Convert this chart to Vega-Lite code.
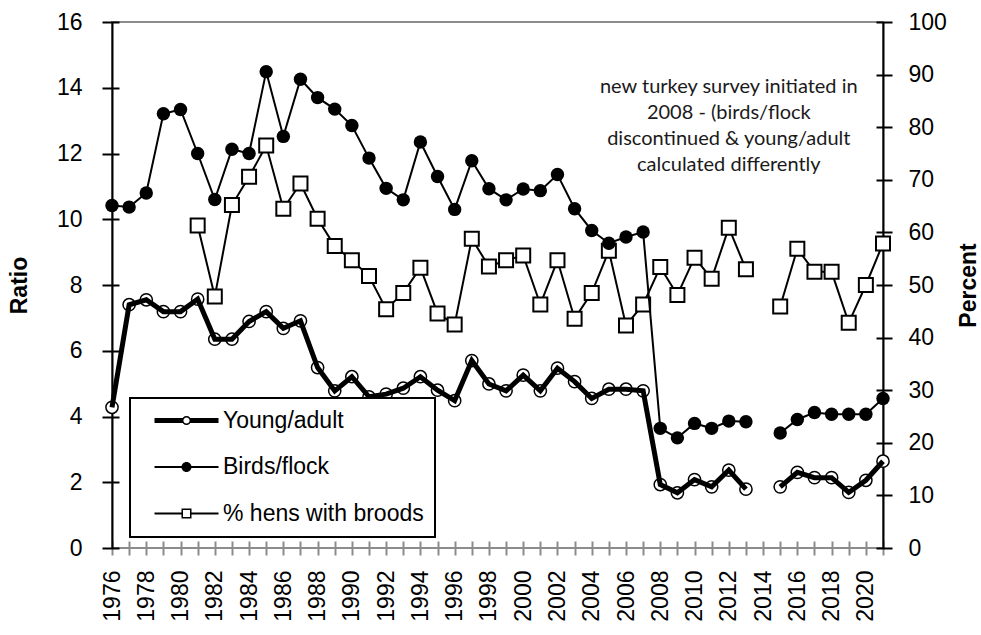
{
  "$schema": "https://vega.github.io/schema/vega-lite/v6.json",
  "width": 771,
  "height": 526,
  "autosize": {"type": "none"},
  "padding": {"left": 112, "top": 22, "right": 98, "bottom": 87},
  "background": "white",
  "config": {
    "font": "Liberation Sans",
    "view": {"stroke": "#8c8c8c", "strokeWidth": 2},
    "axis": {"grid": false, "labelFont": "Liberation Sans", "labelFontSize": 23, "labelColor": "black", "titleFont": "Liberation Sans", "titleFontSize": 23, "titleFontWeight": "bold", "titleColor": "black"}
  },
  "data": {"values": [
    {"year": 1976, "Young/adult": 4.28, "Birds/flock": 10.42, "% hens with broods": null},
    {"year": 1977, "Young/adult": 7.40, "Birds/flock": 10.37, "% hens with broods": null},
    {"year": 1978, "Young/adult": 7.55, "Birds/flock": 10.80, "% hens with broods": null},
    {"year": 1979, "Young/adult": 7.19, "Birds/flock": 13.21, "% hens with broods": null},
    {"year": 1980, "Young/adult": 7.19, "Birds/flock": 13.34, "% hens with broods": null},
    {"year": 1981, "Young/adult": 7.57, "Birds/flock": 12.00, "% hens with broods": 61.3},
    {"year": 1982, "Young/adult": 6.35, "Birds/flock": 10.60, "% hens with broods": 47.8},
    {"year": 1983, "Young/adult": 6.35, "Birds/flock": 12.13, "% hens with broods": 65.2},
    {"year": 1984, "Young/adult": 6.89, "Birds/flock": 12.00, "% hens with broods": 70.6},
    {"year": 1985, "Young/adult": 7.19, "Birds/flock": 14.49, "% hens with broods": 76.5},
    {"year": 1986, "Young/adult": 6.68, "Birds/flock": 12.52, "% hens with broods": 64.5},
    {"year": 1987, "Young/adult": 6.91, "Birds/flock": 14.26, "% hens with broods": 69.3},
    {"year": 1988, "Young/adult": 5.49, "Birds/flock": 13.70, "% hens with broods": 62.6},
    {"year": 1989, "Young/adult": 4.78, "Birds/flock": 13.35, "% hens with broods": 57.4},
    {"year": 1990, "Young/adult": 5.21, "Birds/flock": 12.85, "% hens with broods": 54.7},
    {"year": 1991, "Young/adult": 4.60, "Birds/flock": 11.86, "% hens with broods": 51.7},
    {"year": 1992, "Young/adult": 4.68, "Birds/flock": 10.94, "% hens with broods": 45.4},
    {"year": 1993, "Young/adult": 4.86, "Birds/flock": 10.59, "% hens with broods": 48.5},
    {"year": 1994, "Young/adult": 5.21, "Birds/flock": 12.35, "% hens with broods": 53.3},
    {"year": 1995, "Young/adult": 4.80, "Birds/flock": 11.30, "% hens with broods": 44.6},
    {"year": 1996, "Young/adult": 4.48, "Birds/flock": 10.30, "% hens with broods": 42.5},
    {"year": 1997, "Young/adult": 5.70, "Birds/flock": 11.78, "% hens with broods": 58.8},
    {"year": 1998, "Young/adult": 4.99, "Birds/flock": 10.93, "% hens with broods": 53.5},
    {"year": 1999, "Young/adult": 4.78, "Birds/flock": 10.59, "% hens with broods": 54.7},
    {"year": 2000, "Young/adult": 5.26, "Birds/flock": 10.92, "% hens with broods": 55.6},
    {"year": 2001, "Young/adult": 4.78, "Birds/flock": 10.87, "% hens with broods": 46.3},
    {"year": 2002, "Young/adult": 5.47, "Birds/flock": 11.36, "% hens with broods": 54.7},
    {"year": 2003, "Young/adult": 5.06, "Birds/flock": 10.32, "% hens with broods": 43.6},
    {"year": 2004, "Young/adult": 4.55, "Birds/flock": 9.66, "% hens with broods": 48.5},
    {"year": 2005, "Young/adult": 4.83, "Birds/flock": 9.27, "% hens with broods": 56.5},
    {"year": 2006, "Young/adult": 4.83, "Birds/flock": 9.46, "% hens with broods": 42.3},
    {"year": 2007, "Young/adult": 4.78, "Birds/flock": 9.61, "% hens with broods": 46.3},
    {"year": 2008, "Young/adult": 1.93, "Birds/flock": 3.64, "% hens with broods": 53.4},
    {"year": 2009, "Young/adult": 1.68, "Birds/flock": 3.35, "% hens with broods": 48.1},
    {"year": 2010, "Young/adult": 2.08, "Birds/flock": 3.79, "% hens with broods": 55.2},
    {"year": 2011, "Young/adult": 1.86, "Birds/flock": 3.64, "% hens with broods": 51.2},
    {"year": 2012, "Young/adult": 2.37, "Birds/flock": 3.86, "% hens with broods": 60.9},
    {"year": 2013, "Young/adult": 1.79, "Birds/flock": 3.84, "% hens with broods": 53.0},
    {"year": 2014, "Young/adult": null, "Birds/flock": null, "% hens with broods": null},
    {"year": 2015, "Young/adult": 1.86, "Birds/flock": 3.50, "% hens with broods": 45.9},
    {"year": 2016, "Young/adult": 2.30, "Birds/flock": 3.91, "% hens with broods": 56.9},
    {"year": 2017, "Young/adult": 2.14, "Birds/flock": 4.12, "% hens with broods": 52.5},
    {"year": 2018, "Young/adult": 2.14, "Birds/flock": 4.07, "% hens with broods": 52.5},
    {"year": 2019, "Young/adult": 1.69, "Birds/flock": 4.07, "% hens with broods": 42.8},
    {"year": 2020, "Young/adult": 2.06, "Birds/flock": 4.07, "% hens with broods": 50.0},
    {"year": 2021, "Young/adult": 2.64, "Birds/flock": 4.55, "% hens with broods": 57.9}
  ]},
  "encoding": {
    "x": {
      "field": "year", "type": "quantitative",
      "scale": {"domain": [1976, 2021], "nice": false, "zero": false},
      "axis": {
        "title": null, "format": "d",
        "values": [1976,1977,1978,1979,1980,1981,1982,1983,1984,1985,1986,1987,1988,1989,1990,1991,1992,1993,1994,1995,1996,1997,1998,1999,2000,2001,2002,2003,2004,2005,2006,2007,2008,2009,2010,2011,2012,2013,2014,2015,2016,2017,2018,2019,2020,2021],
        "labelExpr": "datum.value % 2 === 0 ? datum.label : ''",
        "labelAngle": 270, "labelAlign": "right", "labelBaseline": "middle",
        "offset": -7, "domain": false,
        "labelPadding": 15, "tickSize": 14, "tickWidth": 2, "tickColor": "#8c8c8c",
        "labelOverlap": false, "labelFlush": false, "labelBound": false
      }
    }
  },
  "layer": [
    {
      "transform": [
        {"fold": ["Young/adult", "Birds/flock", "% hens with broods"], "as": ["series", "value"]},
        {"filter": "datum.series === '% hens with broods'"}
      ],
      "mark": {"type": "line", "color": "black", "strokeWidth": 2, "invalid": "break-paths-show-domains"},
      "encoding": {
        "y": {
          "field": "value", "type": "quantitative",
          "scale": {"domain": [0, 100], "nice": false, "zero": true},
          "axis": {
            "orient": "right", "title": "Percent",
            "values": [0,10,20,30,40,50,60,70,80,90,100],
            "offset": -7, "domain": false,
            "tickSize": 16, "tickWidth": 2, "tickColor": "black",
            "labelPadding": 16,
            "titleAngle": 270, "titleBaseline": "top", "titlePadding": 11
          }
        }
      }
    },
    {
      "transform": [
        {"fold": ["Young/adult", "Birds/flock", "% hens with broods"], "as": ["series", "value"]},
        {"filter": "datum.series === '% hens with broods'"}
      ],
      "mark": {"type": "point", "shape": "square", "size": 196, "filled": true, "fill": "white", "stroke": "black", "strokeWidth": 2, "opacity": 1},
      "encoding": {
        "y": {
          "field": "value", "type": "quantitative",
          "scale": {"domain": [0, 100], "nice": false, "zero": true},
          "axis": {"orient": "right", "title": null, "labels": false, "ticks": false, "domain": true, "domainColor": "black", "domainWidth": 2}
        }
      }
    },
    {
      "transform": [
        {"fold": ["Young/adult", "Birds/flock", "% hens with broods"], "as": ["series", "value"]},
        {"filter": "datum.series !== '% hens with broods'"}
      ],
      "encoding": {
        "y": {
          "field": "value", "type": "quantitative",
          "scale": {"domain": [0, 16], "nice": false, "zero": true},
          "axis": {
            "orient": "left", "title": "Ratio",
            "values": [0,2,4,6,8,10,12,14,16],
            "offset": -7, "domain": false,
            "tickSize": 17, "tickWidth": 2, "tickColor": "black",
            "labelPadding": 20, "titlePadding": 25
          }
        }
      },
      "layer": [
        {
          "transform": [{"filter": "datum.series === 'Birds/flock'"}],
          "mark": {"type": "line", "color": "black", "strokeWidth": 2, "invalid": "break-paths-show-domains"}
        },
        {
          "transform": [{"filter": "datum.series === 'Birds/flock'"}],
          "mark": {"type": "point", "shape": "circle", "size": 180, "filled": true, "color": "black", "opacity": 1}
        },
        {
          "transform": [{"filter": "datum.series === 'Young/adult'"}],
          "mark": {"type": "point", "shape": "circle", "size": 150, "filled": true, "fill": "white", "stroke": "black", "strokeWidth": 1.5, "opacity": 1}
        },
        {
          "transform": [{"filter": "datum.series === 'Young/adult'"}],
          "mark": {"type": "line", "strokeWidth": 5, "invalid": "break-paths-show-domains"},
          "encoding": {
            "stroke": {
              "field": "series", "type": "nominal",
              "scale": {"domain": ["Young/adult", "Birds/flock", "% hens with broods"], "range": ["black", "black", "black"]},
              "legend": {
                "title": null, "orient": "none", "legendX": 18, "legendY": 376,
                "padding": 11, "strokeColor": "black", "fillColor": "white",
                "rowPadding": 22.5, "symbolSize": 100, "symbolOffset": 34, "labelOffset": 25,
                "labelFontSize": 23, "labelFont": "Liberation Sans", "labelColor": "black", "labelLimit": 0,
                "labelExpr": "datum.label + '\u2003'",
                "symbolStrokeWidth": 0,
                "encode": {
                  "legend": {"update": {"strokeWidth": {"value": 2}}},
                  "symbols": {"update": {
                    "shape": {"signal": "datum.value === 'Young/adult' ? 'M-6.4,-0.5H-0.75V0.5H-6.4Z M0.75,-0.5H6.4V0.5H0.75Z M0.9,0A0.9,0.9,0,1,1,-0.9,0A0.9,0.9,0,1,1,0.9,0Z M0.62,0A0.62,0.62,0,1,0,-0.62,0A0.62,0.62,0,1,0,0.62,0Z' : datum.value === 'Birds/flock' ? 'M-6.4,-0.2H6.4V0.2H-6.4Z M1,0A1,1,0,1,1,-1,0A1,1,0,1,1,1,0Z' : 'M-6.4,-0.2H-1V0.2H-6.4Z M1,-0.2H6.4V0.2H1Z M-1,-1H1V1H-1Z M-0.7,-0.7V0.7H0.7V-0.7Z'"},
                    "fill": {"value": "black"},
                    "fillOpacity": {"value": 1},
                    "opacity": {"value": 1},
                    "stroke": {"value": "transparent"},
                    "strokeWidth": {"value": 0},
                    "size": {"value": 100}
                  }}
                }
              }
            }
          }
        }
      ]
    },
    {
      "data": {"values": [{"year": 2012.0, "ratio": 14.02, "note": "new turkey survey initiated in\n2008 - (birds/flock\ndiscontinued & young/adult\ncalculated differently"}]},
      "mark": {"type": "text", "font": "Lato", "fontSize": 20, "lineHeight": 26, "lineBreak": "\n", "align": "center", "baseline": "middle", "color": "#1a1a1a"},
      "encoding": {
        "y": {
          "field": "ratio", "type": "quantitative", "scale": {"domain": [0, 16], "nice": false},
          "axis": {"orient": "left", "title": null, "labels": false, "ticks": false, "domain": true, "domainColor": "black", "domainWidth": 2}
        },
        "text": {"field": "note"}
      }
    }
  ],
  "resolve": {"scale": {"y": "independent"}}
}
